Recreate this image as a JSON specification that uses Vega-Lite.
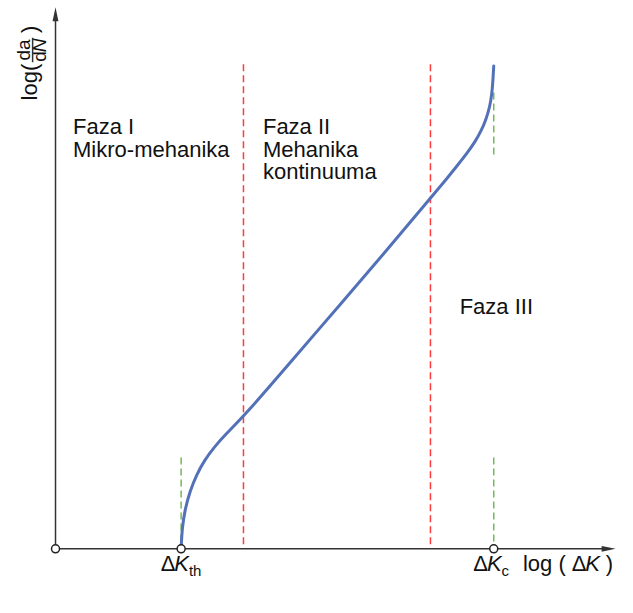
{
  "$schema": "https://vega.github.io/schema/vega-lite/v6.json",
  "autosize": {"type": "none"},
  "width": 633,
  "height": 613,
  "padding": 0,
  "background": "white",
  "config": {"view": {"stroke": null}, "text": {"font": "Liberation Sans", "color": "#111111"}},
  "datasets": {
    "curve": [
      {"x": 186, "y": 582}, {"x": 187, "y": 560}, {"x": 190, "y": 540}, {"x": 195, "y": 521},
      {"x": 202, "y": 503}, {"x": 210, "y": 488}, {"x": 220, "y": 474}, {"x": 233, "y": 459},
      {"x": 250, "y": 442}, {"x": 300, "y": 382}, {"x": 350, "y": 322}, {"x": 400, "y": 262},
      {"x": 442, "y": 210}, {"x": 460, "y": 188}, {"x": 470, "y": 175}, {"x": 480, "y": 162},
      {"x": 488, "y": 150}, {"x": 494, "y": 139}, {"x": 499, "y": 127}, {"x": 503, "y": 113},
      {"x": 505, "y": 100}, {"x": 506, "y": 88}, {"x": 507, "y": 70}
    ],
    "guides": [
      {"x": 250, "y1": 68, "y2": 582, "kind": "red"},
      {"x": 442, "y1": 68, "y2": 582, "kind": "red"},
      {"x": 186, "y1": 485, "y2": 582, "kind": "green"},
      {"x": 507, "y1": 485, "y2": 582, "kind": "green"},
      {"x": 507, "y1": 98, "y2": 167, "kind": "green"}
    ],
    "axes": [
      {"x1": 57, "x2": 620, "y1": 582, "y2": 582},
      {"x1": 57, "x2": 57, "y1": 582, "y2": 20},
      {"x1": 33.5, "x2": 33.5, "y1": 40, "y2": 66}
    ],
    "arrows": [
      {"x": 57, "y": 15, "dir": "up"},
      {"x": 625, "y": 582, "dir": "right"}
    ],
    "knots": [
      {"x": 57, "y": 582}, {"x": 186, "y": 582}, {"x": 507, "y": 582}
    ],
    "labels": [
      {"x": 75, "y": 142, "text": "Faza I", "g": "phase"},
      {"x": 75, "y": 167, "text": "Mikro-mehanika", "g": "phase"},
      {"x": 270, "y": 142, "text": "Faza II", "g": "phase"},
      {"x": 270, "y": 166, "text": "Mehanika", "g": "phase"},
      {"x": 270, "y": 190, "text": "kontinuuma", "g": "phase"},
      {"x": 472, "y": 333, "text": "Faza III", "g": "phase"},
      {"x": 165, "y": 605, "text": "Δ", "g": "sym"},
      {"x": 179, "y": 605, "text": "K", "g": "symi"},
      {"x": 194, "y": 611, "text": "th", "g": "sub"},
      {"x": 486, "y": 605, "text": "Δ", "g": "sym"},
      {"x": 500, "y": 605, "text": "K", "g": "symi"},
      {"x": 515, "y": 611, "text": "c", "g": "sub"},
      {"x": 537, "y": 605, "text": "log ( Δ", "g": "sym"},
      {"x": 601, "y": 605, "text": "K", "g": "symi"},
      {"x": 622, "y": 605, "text": ")", "g": "sym"},
      {"x": 31, "y": 87, "text": "log(", "g": "rot"},
      {"x": 31, "y": 31, "text": ")", "g": "rot"},
      {"x": 25, "y": 53, "text": "da", "g": "frac"},
      {"x": 41.5, "y": 60, "text": "d", "g": "frac"},
      {"x": 41.5, "y": 48, "text": "N", "g": "fraci"}
    ]
  },
  "layer": [
    {
      "data": {"name": "guides"},
      "mark": {"type": "rule", "strokeDash": [7, 4], "strokeWidth": 1.5},
      "encoding": {
        "x": {"field": "x", "type": "quantitative", "scale": {"domain": [0, 633]}, "axis": null},
        "y": {"field": "y1", "type": "quantitative", "scale": {"domain": [0, 613], "reverse": true}, "axis": null},
        "y2": {"field": "y2"},
        "color": {"field": "kind", "type": "nominal", "scale": {"domain": ["red", "green"], "range": ["#ff3b3b", "#74b857"]}, "legend": null}
      }
    },
    {
      "data": {"name": "axes"},
      "mark": {"type": "rule", "color": "#333333", "strokeWidth": 1.5},
      "encoding": {
        "x": {"field": "x1", "type": "quantitative"},
        "x2": {"field": "x2"},
        "y": {"field": "y1", "type": "quantitative"},
        "y2": {"field": "y2"}
      }
    },
    {
      "data": {"name": "arrows"},
      "mark": {"type": "point", "shape": "M0,-1L0.42,1L-0.42,1Z", "filled": true, "color": "#333333", "opacity": 1, "size": 196},
      "encoding": {
        "x": {"field": "x", "type": "quantitative"},
        "y": {"field": "y", "type": "quantitative"},
        "angle": {"condition": {"test": "datum.dir === 'right'", "value": 90}, "value": 0}
      }
    },
    {
      "data": {"name": "curve"},
      "mark": {"type": "line", "color": "#5271b8", "strokeWidth": 3, "interpolate": "basis", "strokeCap": "round"},
      "encoding": {
        "x": {"field": "x", "type": "quantitative"},
        "y": {"field": "y", "type": "quantitative"}
      }
    },
    {
      "data": {"name": "knots"},
      "mark": {"type": "point", "shape": "circle", "filled": true, "fill": "white", "stroke": "#222222", "strokeWidth": 1.5, "opacity": 1, "size": 64},
      "encoding": {
        "x": {"field": "x", "type": "quantitative"},
        "y": {"field": "y", "type": "quantitative"}
      }
    },
    {
      "data": {"name": "labels"},
      "transform": [{"filter": "datum.g === 'phase' || datum.g === 'sym'"}],
      "mark": {"type": "text", "align": "left", "baseline": "alphabetic", "fontSize": 22},
      "encoding": {
        "x": {"field": "x", "type": "quantitative"},
        "y": {"field": "y", "type": "quantitative"},
        "text": {"field": "text"}
      }
    },
    {
      "data": {"name": "labels"},
      "transform": [{"filter": "datum.g === 'symi'"}],
      "mark": {"type": "text", "align": "left", "baseline": "alphabetic", "fontSize": 22, "fontStyle": "italic"},
      "encoding": {
        "x": {"field": "x", "type": "quantitative"},
        "y": {"field": "y", "type": "quantitative"},
        "text": {"field": "text"}
      }
    },
    {
      "data": {"name": "labels"},
      "transform": [{"filter": "datum.g === 'sub'"}],
      "mark": {"type": "text", "align": "left", "baseline": "alphabetic", "fontSize": 15},
      "encoding": {
        "x": {"field": "x", "type": "quantitative"},
        "y": {"field": "y", "type": "quantitative"},
        "text": {"field": "text"}
      }
    },
    {
      "data": {"name": "labels"},
      "transform": [{"filter": "datum.g === 'rot'"}],
      "mark": {"type": "text", "align": "center", "baseline": "middle", "fontSize": 22, "angle": 270},
      "encoding": {
        "x": {"field": "x", "type": "quantitative"},
        "y": {"field": "y", "type": "quantitative"},
        "text": {"field": "text"}
      }
    },
    {
      "data": {"name": "labels"},
      "transform": [{"filter": "datum.g === 'frac'"}],
      "mark": {"type": "text", "align": "center", "baseline": "middle", "fontSize": 19, "angle": 270},
      "encoding": {
        "x": {"field": "x", "type": "quantitative"},
        "y": {"field": "y", "type": "quantitative"},
        "text": {"field": "text"}
      }
    },
    {
      "data": {"name": "labels"},
      "transform": [{"filter": "datum.g === 'fraci'"}],
      "mark": {"type": "text", "align": "center", "baseline": "middle", "fontSize": 19, "angle": 270, "fontStyle": "italic"},
      "encoding": {
        "x": {"field": "x", "type": "quantitative"},
        "y": {"field": "y", "type": "quantitative"},
        "text": {"field": "text"}
      }
    }
  ]
}
